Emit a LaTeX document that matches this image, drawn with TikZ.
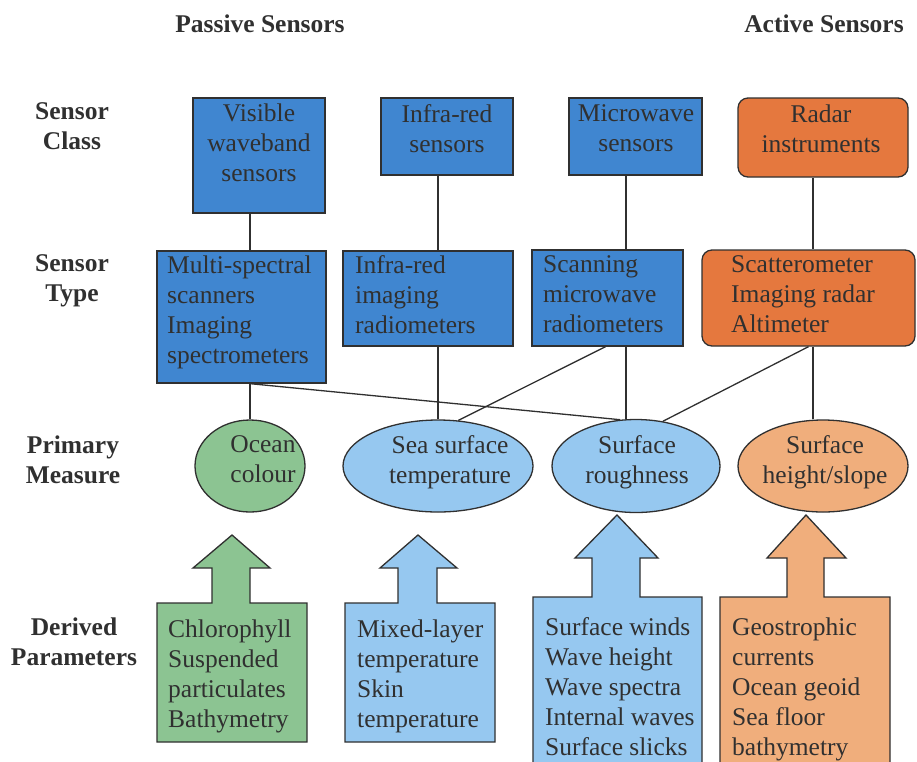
\documentclass[tikz,border=0pt]{standalone}
\usepackage{fontspec}
\setmainfont{Liberation Serif}
\usetikzlibrary{shapes.geometric,calc}
\definecolor{midblue}{RGB}{64,134,208}
\definecolor{dkorange}{RGB}{229,120,62}
\definecolor{ltblue}{RGB}{150,200,240}
\definecolor{ltgreen}{RGB}{140,196,146}
\definecolor{ltorange}{RGB}{240,174,124}
\definecolor{ink}{RGB}{48,48,48}
\tikzset{
  box/.style={draw=ink, line width=1.3pt, inner sep=0pt},
  bluebox/.style={box, fill=midblue},
  orbox/.style={box, fill=dkorange, rounded corners=10pt},
  ell/.style={ellipse, draw=ink, line width=1.3pt, inner sep=0pt},
  abox/.style={draw=ink, line width=1.3pt, line join=miter},
  conn/.style={draw=ink, line width=1.3pt},
  txt/.style={font=\fontsize{25.5}{30}\selectfont, text=ink, inner sep=0pt},
  ltxt/.style={txt, align=left, anchor=north west},
  ctxt/.style={txt, align=center, anchor=north},
  lab/.style={font=\bfseries\fontsize{25.5}{30}\selectfont, text=ink, align=center, anchor=north, inner sep=0pt}
}
\begin{document}
\begin{tikzpicture}[x=1pt,y=-1pt]
\clip (0,0) rectangle (917,761);
\fill[white] (0,0) rectangle (917,761);

% headers and row labels
\node[lab] (hpas) at (260,14.5) {Passive Sensors};
\node[lab] (hact) at (824,14.5) {Active Sensors};
\node[lab] (lcls) at (72,102.5) {Sensor\\Class};
\node[lab] (ltyp) at (72,254.5) {Sensor\\Type};
\node[lab] (lpri) at (73,435.5) {Primary\\Measure};
\node[lab] (lder) at (74,617.5) {Derived\\Parameters};

% sensor class
\node[bluebox, minimum width=132, minimum height=115] (vis) at (259,155.5) {};
\node[bluebox, minimum width=132, minimum height=77] (ir) at (447,136.5) {};
\node[bluebox, minimum width=133, minimum height=77] (mw) at (635.5,136.5) {};
\node[orbox, minimum width=170, minimum height=79] (rad) at (823,137.5) {};
\node[ctxt] (tvis) at (259,103.5) {Visible\\waveband\\sensors};
\node[ctxt] (tir) at (447,104.5) {Infra-red\\sensors};
\node[ctxt] (tmw) at (636,104.5) {Microwave\\sensors};
\node[ctxt] (trad) at (821,104.5) {Radar\\instruments};

% sensor type
\node[bluebox, minimum width=169, minimum height=132] (ms) at (241.5,317) {};
\node[bluebox, minimum width=170, minimum height=95] (iri) at (428,298.5) {};
\node[bluebox, minimum width=151, minimum height=96] (sc) at (607.5,298) {};
\node[orbox, minimum width=213, minimum height=96] (scat) at (808.5,298) {};
\node[ltxt] (tms) at (167,255.5) {Multi-spectral\\scanners\\Imaging\\spectrometers};
\node[ltxt] (tiri) at (355,255.5) {Infra-red\\imaging\\radiometers};
\node[ltxt] (tsc) at (543,255.5) {Scanning\\microwave\\radiometers};
\node[ltxt] (tscat) at (731,255.5) {Scatterometer\\Imaging radar\\Altimeter};

% primary measure
\node[ell, fill=ltgreen, minimum width=110, minimum height=92] (oc) at (250,466) {};
\node[ell, fill=ltblue, minimum width=190, minimum height=92] (sst) at (438,466) {};
\node[ell, fill=ltblue, minimum width=168, minimum height=93] (sr) at (636,466) {};
\node[ell, fill=ltorange, minimum width=170, minimum height=92] (sh) at (823,466) {};
\node[ctxt] (toc) at (263,435.5) {Ocean\\colour};
\node[ctxt] (tsst) at (450,435.5) {Sea surface\\temperature};
\node[ctxt] (tsr) at (637,435.5) {Surface\\roughness};
\node[ctxt] (tsh) at (825,435.5) {Surface\\height/slope};

% connectors
\coordinate (mwx) at (626,0);
\coordinate (radx) at (813,0);
\draw[conn] (vis.south -| oc.north) -- (ms.north -| oc.north);
\draw[conn] (ms.south -| oc.north) -- (oc.north);
\draw[conn] (ir.south -| sst.north) -- (iri.north -| sst.north);
\draw[conn] (iri.south -| sst.north) -- (sst.north);
\draw[conn] (mw.south -| mwx) -- (sc.north -| mwx);
\draw[conn] (sc.south -| mwx) -- (sr.north -| mwx);
\draw[conn] (rad.south -| radx) -- (scat.north -| radx);
\draw[conn] (scat.south -| radx) -- (sh.north -| radx);
\draw[conn] (ms.south -| oc.north) -- (sr.109);
\draw[conn] ($(sc.south)+(-2,0)$) -- (sst.66);
\draw[conn] (scat.south) -- (sr.59);

% derived parameters (box with arrow)
\draw[abox, fill=ltgreen] (157,742) -- (157,603) -- (212,603) -- (212,568) -- (193,568) -- (232,535) -- (270,568) -- (250,568) -- (250,603) -- (307,603) -- (307,742) -- cycle;
\draw[abox, fill=ltblue] (345,742) -- (345,603) -- (398,603) -- (398,568) -- (380,568) -- (418,535) -- (457,568) -- (437,568) -- (437,603) -- (495,603) -- (495,742) -- cycle;
\draw[abox, fill=ltblue] (533,775) -- (533,597) -- (592,597) -- (592,558) -- (575,558) -- (617,515) -- (658,558) -- (640,558) -- (640,597) -- (702,597) -- (702,775) -- cycle;
\draw[abox, fill=ltorange] (720,775) -- (720,597) -- (787,597) -- (787,558) -- (767,558) -- (806,515) -- (846,558) -- (824,558) -- (824,597) -- (890,597) -- (890,775) -- cycle;
\node[ltxt] (tchl) at (168,619.5) {Chlorophyll\\Suspended\\particulates\\Bathymetry};
\node[ltxt] (tmix) at (357,619.5) {Mixed-layer\\temperature\\Skin\\temperature};
\node[ltxt] (tsw) at (545,617.5) {Surface winds\\Wave height\\Wave spectra\\Internal waves\\Surface slicks};
\node[ltxt] (tgeo) at (732,617.5) {Geostrophic\\currents\\Ocean geoid\\Sea floor\\bathymetry};
\end{tikzpicture}
\end{document}
